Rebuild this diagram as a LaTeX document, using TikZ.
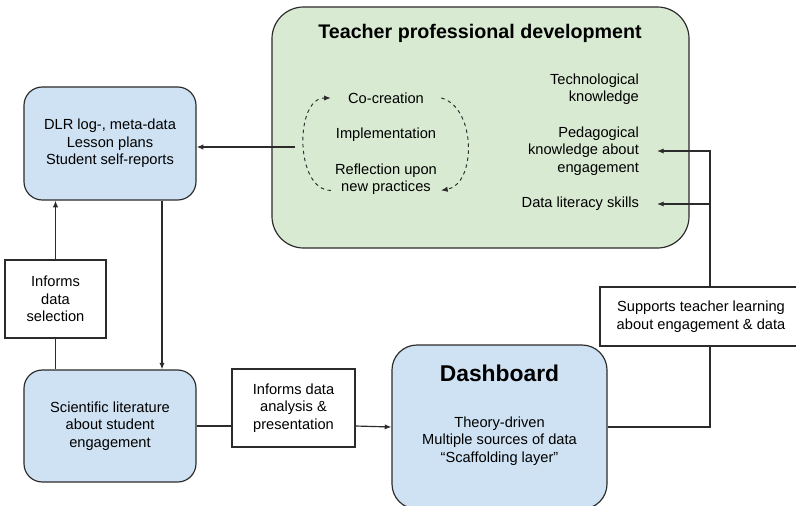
\documentclass[tikz,border=0pt]{standalone}
\usepackage{fontspec}
\setmainfont{Liberation Sans}
\usetikzlibrary{arrows.meta}
\definecolor{TpdGreen}{HTML}{D9EAD3}
\definecolor{SrcBlue}{HTML}{CFE2F3}
\definecolor{EdgeGray}{HTML}{2B2B2B}

\begin{document}
\begin{tikzpicture}[x=0.03cm,y=-0.03cm,>={Latex[length=2mm,width=1.6mm]},
block/.style={draw=EdgeGray,line width=1pt,rounded corners=0.55cm,fill=SrcBlue,align=center,font=\fontsize{12.5}{15}\selectfont},
infobox/.style={draw=EdgeGray,line width=1pt,fill=white,align=center,font=\fontsize{12.5}{15}\selectfont},
lbl/.style={align=center,font=\fontsize{12.5}{15}\selectfont},
cyc/.style={->,dashed,line width=0.8pt,draw=EdgeGray},
link/.style={line width=1pt,draw=EdgeGray}]

\useasboundingbox (0,0) rectangle (796,505);

% teacher professional development
\node[block,fill=TpdGreen,rounded corners=0.95cm,minimum width=12.51cm,minimum height=7.23cm] (tpd) at (480.5,127.5) {};
\node[font=\fontsize{16.8}{20}\selectfont\bfseries] (tpdtitle) at (480,33) {Teacher professional development};
\node[lbl] (cocr) at (386,98) {Co-creation};
\node[lbl] (impl) at (386,135) {Implementation};
\node[lbl] (refl) at (386,179) {Reflection upon\\new practices};
\draw[cyc] ([xshift=4mm]cocr.east) to[out=-15,in=10,looseness=1] ([yshift=2.5mm]refl.south east);
\draw[cyc] ([yshift=2.5mm]refl.south west) to[out=180,in=180,looseness=1] ([xshift=-4mm]cocr.west);
\node[lbl,align=right,anchor=east] (tech) at (643,89) {Technological\\knowledge};
\node[lbl,align=right,anchor=east] (ped) at (643,151) {Pedagogical\\knowledge about\\engagement};
\node[lbl,align=right,anchor=east] (dls) at (643,204) {Data literacy skills};

% data sources and literature
\node[block,minimum width=5.16cm,minimum height=3.39cm] (dlr) at (110,143.5) {DLR log-, meta-data\\Lesson plans\\Student self-reports};
\node[block,minimum width=5.16cm,minimum height=3.36cm] (sci) at (110,426) {Scientific literature\\about student\\engagement};
\node[infobox,minimum width=3.03cm,minimum height=2.34cm] (sel) at (55.5,299) {Informs\\data\\selection};
\node[infobox,minimum width=3.69cm,minimum height=2.34cm] (ana) at (293.5,408) {Informs data\\analysis \&\\presentation};

% dashboard
\node[block,rounded corners=0.75cm,minimum width=6.45cm,minimum height=4.92cm] (dash) at (499.5,427) {};
\node[font=\fontsize{19.5}{23}\selectfont\bfseries] (dashtitle) at (499.5,373) {Dashboard};
\node[lbl] (dashtext) at (499.5,441) {Theory-driven\\Multiple sources of data\\``Scaffolding layer''};
\node[infobox,minimum width=6.06cm,minimum height=1.77cm] (sup) at (701,316.5) {Supports teacher learning\\about engagement \& data};

\coordinate (src) at (295,147);
\draw[link,->] (src) -- (src -| dlr.east);
\draw[link,->] (sel.north) -- (sel.north |- dlr.south);
\draw[link] (sel.south) -- (sel.south |- sci.north);
\draw[link,->] ([xshift=1.56cm]dlr.south) -- ([xshift=1.56cm]sci.north);
\draw[link] (sci.east) -- (sci.east -| ana.west);
\draw[link,->] (sci.east -| ana.east) -- (dash.west);
\draw[link] (dash.east) -| ([xshift=0.27cm]sup.south);
\draw[link,->] ([xshift=0.27cm]sup.north) |- ([xshift=0.42cm]ped.east);
\draw[link,->] ([xshift=0.27cm]sup.north) |- ([xshift=0.42cm]dls.east);

\end{tikzpicture}
\end{document}
